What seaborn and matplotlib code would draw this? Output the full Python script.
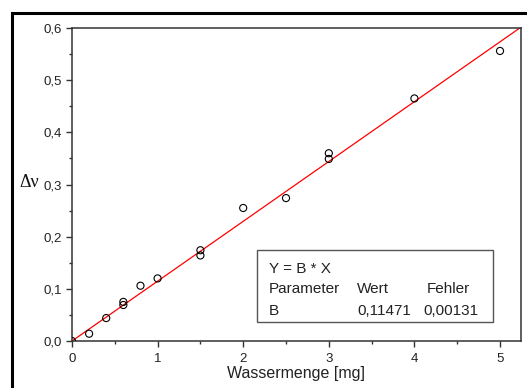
import matplotlib
matplotlib.use("Agg")
import matplotlib.pyplot as plt
from matplotlib.patches import Rectangle
from matplotlib.ticker import MultipleLocator, FuncFormatter
import numpy as np
import pandas as pd
import seaborn as sns

# Measured water amounts and frequency shifts
wassermenge = [0.0, 0.2, 0.4, 0.6, 0.6, 0.8, 1.0, 1.5, 1.5, 2.0, 2.5, 3.0, 3.0, 4.0, 5.0]
delta_nu = [0.0, 0.014, 0.044, 0.075, 0.069, 0.106, 0.120, 0.174, 0.164,
            0.255, 0.274, 0.360, 0.349, 0.465, 0.556]

# Linear fit through origin: Y = B * X
fit_B = 0.11471
fit_B_err = 0.00131

x_limits = (0.0, 5.245)
y_limits = (0.0, 0.6)

sns.set_theme(style="ticks")
plt.rcParams["font.family"] = ["Liberation Sans", "DejaVu Sans"]

df = pd.DataFrame({"x": wassermenge, "y": delta_nu})
fit_x = np.array(x_limits)
fit_df = pd.DataFrame({"x": fit_x, "y": fit_B * fit_x})

fig = plt.figure(figsize=(5.27, 3.88), dpi=100)
ax = fig.add_axes([0.1366, 0.1211, 0.852, 0.8067])

sns.lineplot(data=fit_df, x="x", y="y", ax=ax, color="#ff0000", linewidth=0.9,
             zorder=2)
sns.scatterplot(data=df, x="x", y="y", ax=ax, marker="o", s=26,
                facecolor="none", edgecolor="black", linewidth=0.8, zorder=3)

ax.set_xlim(*x_limits)
ax.set_ylim(*y_limits)
ax.xaxis.set_major_locator(MultipleLocator(1))
ax.xaxis.set_minor_locator(MultipleLocator(0.5))
ax.yaxis.set_major_locator(MultipleLocator(0.1))
ax.yaxis.set_minor_locator(MultipleLocator(0.05))
ax.yaxis.set_major_formatter(FuncFormatter(lambda v, p: f"{v:.1f}".replace(".", ",")))
ax.xaxis.set_major_formatter(FuncFormatter(lambda v, p: f"{v:.0f}"))

for side in ["top", "right", "bottom", "left"]:
    ax.spines[side].set_visible(True)
    ax.spines[side].set_color("#333333")
    ax.spines[side].set_linewidth(1.1)

ax.tick_params(which="major", direction="out", length=4.5, width=1.0,
               color="#333333", labelsize=9.5, labelcolor="#222222", pad=3)
ax.tick_params(which="minor", direction="out", length=2.5, width=1.0,
               color="#333333")
ax.tick_params(axis="x", which="major", pad=4)
ax.tick_params(top=False, right=False, which="both")

ax.set_xlabel("Wassermenge [mg]", fontsize=11.5, color="#222222", labelpad=1)
ax.set_ylabel("Δν", fontsize=13, rotation=0, ha="right", va="center",
              family=["Liberation Serif", "DejaVu Serif"], color="#111111")
ax.yaxis.set_label_coords(-0.0735, 0.505)

# Fit result box
ax.add_patch(Rectangle((0.411, 0.0607), 0.526, 0.2303, transform=ax.transAxes,
                       facecolor="white", edgecolor="#555555", linewidth=1.0,
                       zorder=4))
txt = dict(transform=ax.transAxes, fontsize=11, color="#222222",
           va="baseline", zorder=5)
ax.text(0.439, 0.218, "Y = B * X", **txt)
ax.text(0.439, 0.154, "Parameter", **txt)
ax.text(0.635, 0.154, "Wert", **txt)
ax.text(0.791, 0.154, "Fehler", **txt)
ax.text(0.439, 0.083, "B", **txt)
ax.text(0.635, 0.083, f"{fit_B:.5f}".replace(".", ","), **txt)
ax.text(0.782, 0.083, f"{fit_B_err:.5f}".replace(".", ","), **txt)

# Outer frame around the plot area
fig.add_artist(Rectangle((12 / 527, -0.1), 1.2, 1 - 13 / 388 + 0.1,
                         transform=fig.transFigure, facecolor="none",
                         edgecolor="black", linewidth=2.2, clip_on=False))

fig.savefig("out.png", dpi=100)
